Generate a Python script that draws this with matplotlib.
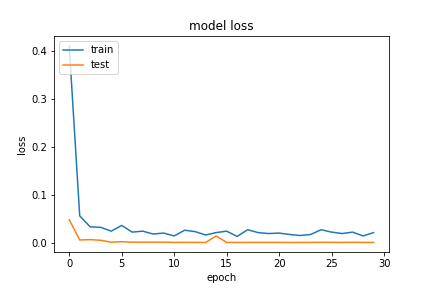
import matplotlib
matplotlib.use('Agg')
import matplotlib.pyplot as plt

# loss per epoch
train_loss = [0.411, 0.056, 0.033, 0.032, 0.024, 0.036, 0.022, 0.024, 0.018, 0.020,
              0.014, 0.026, 0.023, 0.016, 0.021, 0.024, 0.013, 0.027, 0.021, 0.019,
              0.020, 0.017, 0.015, 0.017, 0.027, 0.022, 0.019, 0.022, 0.014, 0.021]
test_loss = [0.048, 0.0056, 0.0063, 0.005, 0.001, 0.002, 0.001, 0.001, 0.001, 0.001,
             0.0005, 0.0006, 0.0005, 0.0004, 0.014, 0.0005, 0.0004, 0.0005, 0.0005, 0.0005,
             0.0005, 0.0004, 0.0004, 0.0005, 0.0007, 0.0006, 0.0005, 0.0007, 0.0005, 0.0005]

fig = plt.figure(figsize=(6, 4), dpi=72)
plt.subplots_adjust(left=0.125, right=0.9, bottom=0.124, top=0.875)
plt.plot(train_loss)
plt.plot(test_loss)
plt.title('model loss')
plt.ylabel('loss')
plt.xlabel('epoch')
plt.legend(['train', 'test'], loc='upper left')
plt.savefig('out.png')
